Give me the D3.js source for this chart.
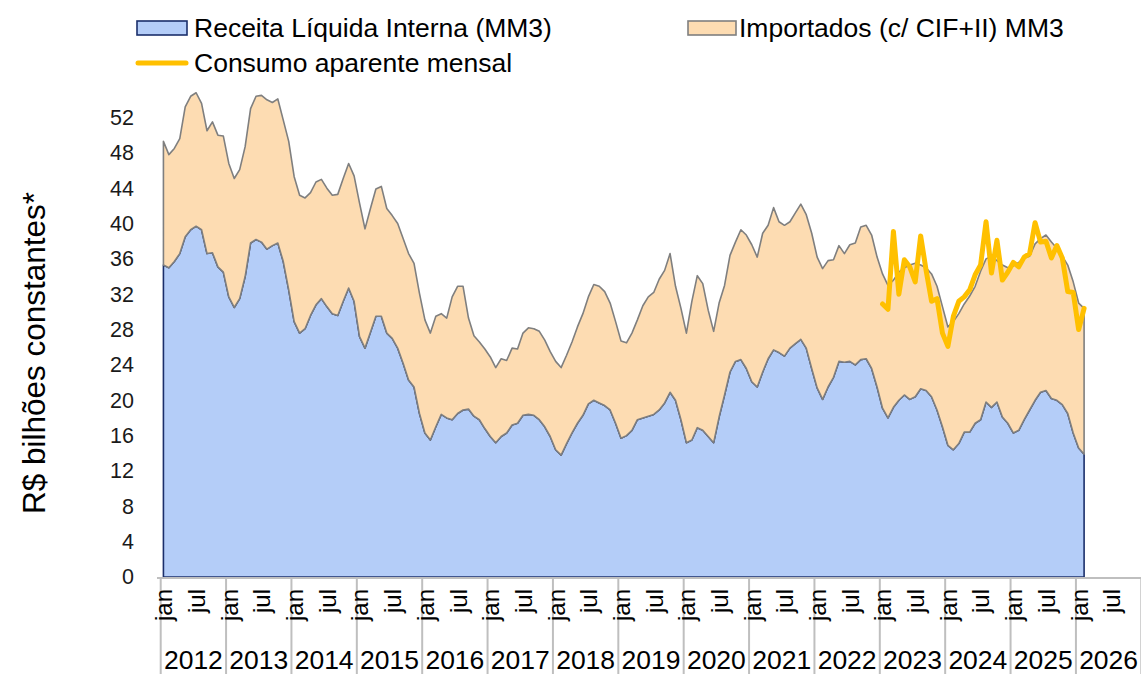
<!DOCTYPE html>
<html><head><meta charset="utf-8">
<script src="https://cdn.jsdelivr.net/npm/d3@7/dist/d3.min.js"></script>
<style>
body{margin:0;background:#fff;}
svg text{font-family:"Liberation Sans",Arial,sans-serif;}
</style>
</head><body>
<svg id="chart" width="1141" height="674"></svg>
<script>
const years = [2012,2013,2014,2015,2016,2017,2018,2019,2020,2021,2022,2023,2024,2025,2026];
const monthNames = ["jan","fev","mar","abr","mai","jun","jul","ago","set","out","nov","dez"];
const shownMonths = ["jan","jul"];
const yTicks = [0,4,8,12,16,20,24,28,32,36,40,44,48,52];
const seriesNames = ["Receita Líquida Interna (MM3)","Importados (c/ CIF+II) MM3","Consumo aparente mensal"];
const yTitle = "R$ bilhões constantes*";

// Receita Líquida Interna (MM3), jan/2012 .. fev/2026
const receita = [
 35.3,35.0,35.7,36.6,38.5,39.3,39.7,39.3,36.6,36.7,35.1,34.5,
 31.7,30.5,31.5,34.0,37.8,38.2,37.9,37.1,37.5,37.8,35.7,32.5,
 28.9,27.6,28.1,29.6,30.8,31.5,30.6,29.8,29.6,31.2,32.7,31.2,
 27.2,25.9,27.7,29.5,29.5,27.6,27.0,25.9,24.2,22.3,21.5,18.5,
 16.3,15.5,17.0,18.4,18.0,17.8,18.5,18.9,19.0,18.2,17.8,16.8,
 15.9,15.2,15.9,16.3,17.2,17.4,18.3,18.4,18.3,17.8,17.0,15.9,
 14.4,13.8,15.1,16.3,17.4,18.3,19.6,20.0,19.7,19.4,18.9,17.4,
 15.7,16.0,16.6,17.8,18.0,18.2,18.4,18.9,19.7,20.9,20.0,17.8,
 15.2,15.5,16.9,16.6,15.9,15.2,18.1,20.6,23.2,24.4,24.6,23.6,
 22.1,21.5,23.2,24.7,25.7,25.4,25.0,25.9,26.4,26.9,25.9,23.6,
 21.4,20.1,21.5,22.6,24.4,24.3,24.4,24.0,24.6,24.7,23.6,21.5,
 19.1,18.0,19.2,20.0,20.6,20.1,20.4,21.3,21.1,20.4,18.9,17.0,
 14.9,14.4,15.1,16.4,16.4,17.4,17.8,19.8,19.2,19.8,18.1,17.4,
 16.3,16.6,17.8,18.9,20.0,20.9,21.1,20.2,20.0,19.5,18.5,16.3,
 14.6,13.9
];
// Importados (c/ CIF+II) MM3, jan/2012 .. fev/2026
const importados = [
 14.0,12.8,12.8,13.0,14.7,15.1,15.1,14.3,13.9,14.8,14.9,15.4,
 15.1,14.6,14.6,14.7,15.2,16.2,16.6,16.9,16.2,16.3,16.0,16.8,
 16.4,15.6,14.8,13.9,13.9,13.5,13.4,13.4,13.7,13.9,14.1,14.2,
 15.1,13.5,14.0,14.4,14.7,14.1,13.9,14.1,14.1,14.3,14.0,13.6,
 12.8,12.1,12.5,11.4,11.3,13.9,14.4,14.0,10.3,9.1,8.8,9.0,
 9.0,8.5,8.8,8.2,8.7,8.4,9.3,9.8,9.8,10.0,9.8,9.6,
 10.0,9.9,10.0,10.3,10.9,11.5,12.1,13.1,13.2,12.9,12.1,11.5,
 11.0,10.5,11.0,11.3,12.7,13.5,13.8,14.8,15.0,15.7,12.9,12.6,
 12.4,15.7,17.2,16.6,14.3,12.6,12.9,12.4,13.2,13.5,14.7,15.1,
 15.5,14.7,15.7,15.1,16.1,14.8,14.8,14.3,14.8,15.3,15.1,15.3,
 14.8,14.8,14.3,13.3,13.1,12.3,13.2,13.8,15.0,15.1,15.1,14.7,
 15.2,15.0,14.4,14.5,14.4,15.2,15.1,14.0,13.9,13.9,14.0,13.6,
 13.4,14.5,14.7,14.5,15.4,15.5,16.8,16.2,17.1,16.0,17.2,17.6,
 18.9,19.0,18.3,17.4,17.7,17.4,17.6,17.7,17.2,16.8,16.8,17.1,
 16.4,16.5
];
// Consumo aparente mensal, jan/2023 .. fev/2026
const consumoStart = "2023-jan";
const consumo = [
 30.9,30.3,39.1,32.0,35.9,35.1,33.4,38.6,34.7,31.2,31.5,27.6,
 26.1,29.5,31.2,31.7,32.5,34.2,35.3,40.2,34.4,38.1,33.6,34.5,
 35.6,35.1,36.2,36.6,40.1,37.9,38.0,36.1,37.5,36.1,32.3,32.2,
 28.0,30.4
];

const FONT = "'Liberation Sans', Arial, sans-serif";
const svg = d3.select("#chart");
const categories = years.flatMap(y => monthNames.map(m => y + "-" + m));

const plotL = 160.7, plotR = 1141.3, plotB = 577;
const x = d3.scaleBand().domain(categories).range([plotL, plotR]).padding(0);
const xYear = d3.scaleBand().domain(years).range([plotL, plotR]).padding(0);
const y = d3.scaleLinear().domain([0, 52]).range([plotB, 117.5]);
const xc = c => x(c) + x.bandwidth() / 2;

const rows = receita.map((r, i) => ({cat: categories[i], r: r, m: importados[i]}));
const stacked = d3.stack().keys(["r", "m"])(rows);

const area = d3.area()
  .x(d => xc(d.data.cat))
  .y0(d => y(d[0]))
  .y1(d => y(d[1]));

svg.append("path").datum(stacked[0]).attr("d", area)
  .attr("fill", "#B4CDF8").attr("stroke", "#1B2F6B").attr("stroke-width", 1.6)
  .attr("stroke-linejoin", "round");
svg.append("path").datum(stacked[1]).attr("d", area)
  .attr("fill", "#FDDCB2").attr("stroke", "#7F7F7F").attr("stroke-width", 1.6)
  .attr("stroke-linejoin", "round");

const c0 = categories.indexOf(consumoStart);
const consumoRows = consumo.map((v, i) => ({cat: categories[c0 + i], v: v}));
svg.append("path").datum(consumoRows)
  .attr("d", d3.line().x(d => xc(d.cat)).y(d => y(d.v)))
  .attr("fill", "none").attr("stroke", "#FFC000").attr("stroke-width", 5)
  .attr("stroke-linejoin", "round").attr("stroke-linecap", "round");

// Y axis labels
const yAxis = svg.append("g").attr("transform", "translate(134,0)")
  .call(d3.axisLeft(y).tickValues(yTicks).tickSize(0).tickPadding(0));
yAxis.attr("font-family", FONT);
yAxis.select(".domain").remove();
yAxis.selectAll("text").attr("font-size", 21.5).attr("fill", "#1a1a1a");

// X axis
const xAxisG = svg.append("g").attr("font-family", FONT);
xAxisG.append("line").attr("x1", 157).attr("x2", plotR).attr("y1", plotB + 1).attr("y2", plotB + 1)
  .attr("stroke", "#BFBFBF").attr("stroke-width", 2);
xAxisG.selectAll("line.yb").data(years.concat(["end"])).join("line").attr("class", "yb")
  .attr("x1", d => d === "end" ? plotR : xYear(d)).attr("x2", d => d === "end" ? plotR : xYear(d))
  .attr("y1", plotB).attr("y2", 674)
  .attr("stroke", "#BFBFBF").attr("stroke-width", 2);

const monthTickCats = categories.filter(c => shownMonths.includes(c.split("-")[1]));
xAxisG.selectAll("text.m").data(monthTickCats).join("text").attr("class", "m")
  .attr("transform", d => `translate(${xc(d) + 0.5},589) rotate(-90)`)
  .attr("text-anchor", "end").attr("dy", "0.35em")
  .attr("font-size", 24).attr("fill", "#000")
  .text(d => d.split("-")[1]);

xAxisG.selectAll("text.yr").data(years).join("text").attr("class", "yr")
  .attr("x", d => xYear(d) + xYear.bandwidth() / 2).attr("y", 669)
  .attr("text-anchor", "middle").attr("font-size", 26.5).attr("fill", "#000")
  .text(d => d);

// Y title
svg.append("text").attr("transform", "translate(45,353) rotate(-90)")
  .attr("font-family", FONT)
  .attr("text-anchor", "middle").attr("font-size", 31.5).attr("fill", "#000")
  .text(yTitle);

// Legend
const lg = svg.append("g").attr("font-family", FONT);
lg.append("rect").attr("x", 137).attr("y", 21).attr("width", 50).attr("height", 14)
  .attr("fill", "#B4CDF8").attr("stroke", "#1B2F6B").attr("stroke-width", 1.6);
lg.append("text").attr("x", 194).attr("y", 37).attr("font-size", 26.5).attr("fill", "#000").text(seriesNames[0]);
lg.append("rect").attr("x", 688).attr("y", 21).attr("width", 48).attr("height", 14)
  .attr("fill", "#FDDCB2").attr("stroke", "#7F7F7F").attr("stroke-width", 1.6);
lg.append("text").attr("x", 739).attr("y", 37).attr("font-size", 26.5).attr("fill", "#000").text(seriesNames[1]);
lg.append("line").attr("x1", 138).attr("x2", 186).attr("y1", 63).attr("y2", 63)
  .attr("stroke", "#FFC000").attr("stroke-width", 5).attr("stroke-linecap", "round");
lg.append("text").attr("x", 194).attr("y", 72).attr("font-size", 26.5).attr("fill", "#000").text(seriesNames[2]);
</script>
</body></html>
